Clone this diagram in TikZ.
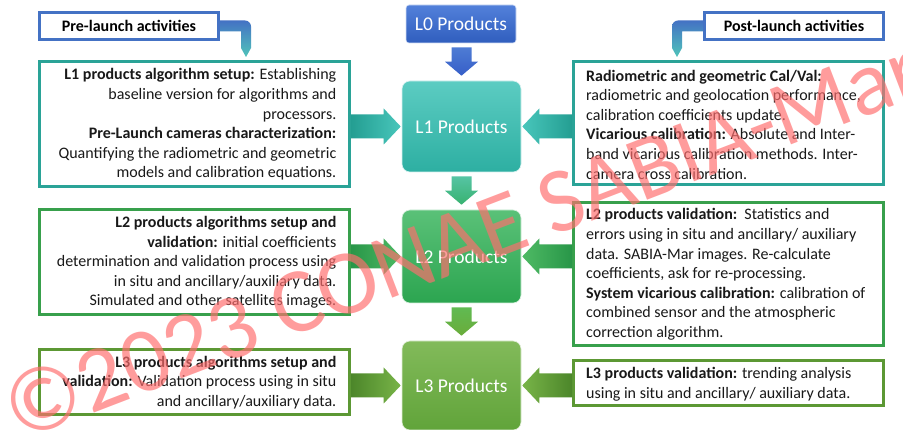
\documentclass[tikz,border=0pt]{standalone}
\usepackage{fontspec}
\setmainfont{Carlito}
\usetikzlibrary{calc}
\definecolor{hdrblue}{RGB}{68,114,196}
\definecolor{hdrteal}{RGB}{80,196,186}
\definecolor{lzTop}{RGB}{82,128,218}
\definecolor{lzBot}{RGB}{48,94,190}
\definecolor{loTop}{RGB}{92,204,194}
\definecolor{loBot}{RGB}{45,175,162}
\definecolor{ltTop}{RGB}{90,193,120}
\definecolor{ltBot}{RGB}{44,165,80}
\definecolor{lhTop}{RGB}{130,186,90}
\definecolor{lhBot}{RGB}{97,164,58}
\definecolor{bdOne}{RGB}{42,163,151}
\definecolor{bdTwo}{RGB}{56,160,76}
\definecolor{bdThree}{RGB}{92,152,52}
\definecolor{arOneD}{RGB}{36,158,146}
\definecolor{arOneL}{RGB}{72,198,187}
\definecolor{arTwoD}{RGB}{40,150,72}
\definecolor{arTwoL}{RGB}{78,186,100}
\definecolor{arThreeD}{RGB}{76,134,42}
\definecolor{arThreeL}{RGB}{120,180,72}
\definecolor{dnZeroT}{RGB}{78,124,212}
\definecolor{dnZeroB}{RGB}{54,94,200}
\definecolor{dnOneT}{RGB}{86,196,164}
\definecolor{dnOneB}{RGB}{56,178,112}
\definecolor{dnTwoT}{RGB}{96,186,82}
\definecolor{dnTwoB}{RGB}{106,172,58}
\definecolor{wmpink}{RGB}{255,110,110}
\definecolor{bodytext}{RGB}{25,25,25}

\newcommand\rightblock[4]{%
  \shade[left color=#3, right color=#4] let \p1=(#1.east), \p2=(#2.west) in
  (\x1,\y2+12pt) -- (\x2-18pt,\y2+12pt) -- (\x2-18pt,\y2+18pt) -- (\x2-1pt,\y2)
  -- (\x2-18pt,\y2-18pt) -- (\x2-18pt,\y2-12pt) -- (\x1,\y2-12pt) -- cycle;}
\newcommand\leftblock[4]{%
  \shade[left color=#4, right color=#3] let \p1=(#1.west), \p2=(#2.east) in
  (\x1,\y2+12pt) -- (\x2+18pt,\y2+12pt) -- (\x2+18pt,\y2+18pt) -- (\x2+1pt,\y2)
  -- (\x2+18pt,\y2-18pt) -- (\x2+18pt,\y2-12pt) -- (\x1,\y2-12pt) -- cycle;}
\newcommand\downblock[4]{%
  \shade[top color=#3, bottom color=#4] let \p1=(#1.south), \p2=(#2.north) in
  (\x2-10pt,\y1-4pt) -- (\x2+10pt,\y1-4pt) -- (\x2+10pt,\y2+19pt) -- (\x2+16.5pt,\y2+19pt)
  -- (\x2,\y2+5pt) -- (\x2-16.5pt,\y2+19pt) -- (\x2-10pt,\y2+19pt) -- cycle;}

\begin{document}
\begin{tikzpicture}[x=1pt,y=-1pt,
  textbox/.style={draw=#1, line width=3pt, fill=white, minimum width=310pt, inner sep=0pt},
  prodbox/.style 2 args={top color=#1, bottom color=#2, rounded corners=8pt, text=white,
     font=\fontsize{19.5}{22}\selectfont, minimum width=119pt, inner sep=0pt,
     draw=white!75!#1, line width=0.6pt},
  boxtext/.style={font=\fontsize{16}{19.6}\selectfont, text=bodytext, inner sep=0pt},
  hdr/.style={draw=hdrblue, line width=3pt, fill=white, minimum width=179pt, minimum height=27pt,
     font=\bfseries\fontsize{16}{19.6}\selectfont, text=black, inner sep=0pt},
]
\useasboundingbox (0,0) rectangle (903,430);
\fill[white] (0,0) rectangle (903,430);

% product boxes
\node[prodbox={lzTop}{lzBot}, minimum width=110pt, minimum height=38pt, rounded corners=3pt] (l0p) at (461,24) {L0 Products};
\node[prodbox={loTop}{loBot}, minimum height=91pt] (l1p) at (461.5,126.5) {L1 Products};
\node[prodbox={ltTop}{ltBot}, minimum height=93pt] (l2p) at (461.5,256.5) {L2 Products};
\node[prodbox={lhTop}{lhBot}, minimum height=89pt] (l3p) at (461.5,385.5) {L3 Products};

% header boxes
\node[hdr] (pre) at (129,26) {Pre-launch activities};
\node[hdr] (post) at (794,26) {Post-launch activities};

% text boxes
\node[textbox=bdOne, minimum height=125pt] (l1l) at (194.5,124) {};
\node[textbox=bdOne, minimum height=123pt] (l1r) at (728.5,123) {};
\node[textbox=bdTwo, minimum height=105pt] (l2l) at (194.5,262) {};
\node[textbox=bdTwo, minimum height=143pt] (l2r) at (728.5,274) {};
\node[textbox=bdThree, minimum height=65pt] (l3l) at (194.5,382) {};
\node[textbox=bdThree, minimum height=45pt] (l3r) at (728.5,383) {};

\node[boxtext, anchor=east, align=right] (l1lt) at ($(l1l.east)+(-14.5,0.5)$)
 {\textbf{L1 products algorithm setup:} Establishing\\
  baseline version for algorithms and\\
  processors.\\
  \textbf{Pre-Launch cameras characterization:}\\
  Quantifying the radiometric and geometric\\
  models and calibration equations.};
\node[boxtext, anchor=west, align=left] (l1rt) at ($(l1r.west)+(14,1.5)$)
 {\textbf{Radiometric and geometric Cal/Val:}\\
  radiometric and geolocation performance,\\
  calibration coefficients update.\\
  \textbf{Vicarious calibration:} Absolute and Inter-\\
  band vicarious calibration methods. Inter-\\
  camera cross calibration.};
\node[boxtext, anchor=east, align=right] (l2lt) at ($(l2l.east)+(-14.5,0.5)$)
 {\textbf{L2 products algorithms setup and}\\
  \textbf{validation:} initial coefficients\\
  determination and validation process using\\
  in situ and ancillary/auxiliary data.\\
  Simulated and other satellites images.};
\node[boxtext, anchor=west, align=left] (l2rt) at ($(l2r.west)+(14,0.5)$)
 {\textbf{L2 products validation:}\ \ Statistics and\\
  errors using in situ and ancillary/ auxiliary\\
  data. SABIA-Mar images. Re-calculate\\
  coefficients, ask for re-processing.\\
  \textbf{System vicarious calibration:} calibration of\\
  combined sensor and the atmospheric\\
  correction algorithm.};
\node[boxtext, anchor=east, align=right] (l3lt) at ($(l3l.east)+(-14.5,0.5)$)
 {\textbf{L3 products algorithms setup and}\\
  \textbf{validation:} Validation process using in situ\\
  and ancillary/auxiliary data.};
\node[boxtext, anchor=west, align=left] (l3rt) at ($(l3r.west)+(14,1)$)
 {\textbf{L3 products validation:} trending analysis\\
  using in situ and ancillary/ auxiliary data.};

% block arrows
\rightblock{l1l}{l1p}{arOneD}{arOneL}
\leftblock{l1r}{l1p}{arOneD}{arOneL}
\rightblock{l2l}{l2p}{arTwoD}{arTwoL}
\leftblock{l2r}{l2p}{arTwoD}{arTwoL}
\rightblock{l3l}{l3p}{arThreeD}{arThreeL}
\leftblock{l3r}{l3p}{arThreeD}{arThreeL}
\downblock{l0p}{l1p}{dnZeroT}{dnZeroB}
\downblock{l1p}{l2p}{dnOneT}{dnOneB}
\downblock{l2p}{l3p}{dnTwoT}{dnTwoB}

% header connectors
\coordinate (pretip) at (246,57);
\coordinate (posttip) at (677,57);
\shade[top color=hdrblue, bottom color=hdrteal] let \p1=(pre.east), \p2=(pretip) in
  (\x1,\y1+5.5pt) -- (\x2-1pt,\y1+5.5pt) arc[start angle=90, end angle=0, radius=6pt]
  -- (\x2+5pt,\y2+9pt) -- (\x2,\y2) -- (\x2-5pt,\y2+9pt) -- (\x2-5pt,\y1-5.5pt) -- (\x1,\y1-5.5pt) -- cycle;
\shade[top color=hdrblue, bottom color=hdrteal] let \p1=(post.west), \p2=(posttip) in
  (\x1,\y1+5.5pt) -- (\x2+1pt,\y1+5.5pt) arc[start angle=90, end angle=180, radius=6pt]
  -- (\x2-5pt,\y2+9pt) -- (\x2,\y2) -- (\x2+5pt,\y2+9pt) -- (\x2+5pt,\y1-5.5pt) -- (\x1,\y1-5.5pt) -- cycle;

% watermark
\node[rotate=21, text=wmpink, text opacity=0.68, font=\fontsize{92}{92}\selectfont, inner sep=0pt] (wm) at (463,238) {©2023 CONAE SABIA-Mar};
\end{tikzpicture}
\end{document}
